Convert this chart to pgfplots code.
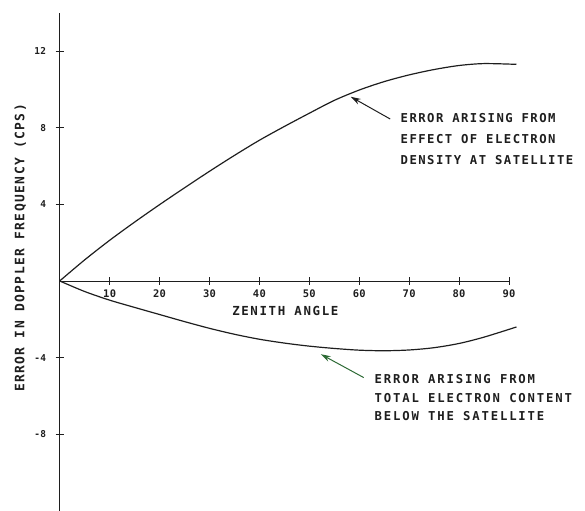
\documentclass[border=0pt]{standalone}
\usepackage{pgfplots}
\pgfplotsset{compat=1.18}
\usepackage{fontspec}
\usetikzlibrary{arrows.meta}
\newfontfamily\annAfont[LetterSpace=12]{DejaVu Sans Mono}
\newfontfamily\annBfont[LetterSpace=15]{DejaVu Sans Mono}
\newfontfamily\ylabfont[LetterSpace=11]{DejaVu Sans Mono}
\newfontfamily\xlabfont[LetterSpace=13]{DejaVu Sans Mono}
\newfontfamily\ticfont[LetterSpace=3]{DejaVu Sans Mono}
\definecolor{ink}{HTML}{1E1E1E}
\definecolor{arrgreen}{HTML}{2D6A35}
\begin{document}
\begin{tikzpicture}
\begin{axis}[
  scale only axis, width=449.3bp, height=498.4bp,
  xmin=0, xmax=90, ymin=-12, ymax=14,
  axis lines=middle,
  axis line style={-, line width=0.9pt, color=ink},
  every inner x axis line/.append style={-},
  every inner y axis line/.append style={-},
  xtick={10,20,...,90}, xticklabels={10,20,30,40,50,60,70,80,90},
  ytick={-8,-4,4,8,12}, yticklabels={-8,-4,4,8,12},
  tick align=center, major tick length=8bp,
  tick style={line width=0.8pt, color=ink},
  xticklabel style={font=\ticfont\bfseries\fontsize{10.5}{12}\selectfont, yshift=-1bp, text=ink},
  yticklabel style={font=\ticfont\bfseries\fontsize{9.5}{11}\selectfont, xshift=-6bp, text=ink},
  clip=false,
]
\addplot[no marks, smooth, tension=0.5, line width=1.2pt, color=ink] coordinates {
(0,0) (5,1.10) (10,2.12) (15,3.07) (20,3.98) (25,4.86) (30,5.72) (35,6.55)
(40,7.34) (45,8.06) (50,8.75) (55,9.42) (60,9.96) (65,10.40) (70,10.75)
(75,11.03) (80,11.24) (85,11.34) (91.5,11.30)};
\addplot[no marks, smooth, tension=0.5, line width=1.2pt, color=ink] coordinates {
(0,0) (5,-0.55) (10,-1.0) (15,-1.38) (20,-1.75) (25,-2.12) (30,-2.47) (35,-2.78)
(40,-3.04) (45,-3.24) (50,-3.40) (55,-3.52) (60,-3.61) (65,-3.64) (70,-3.60)
(75,-3.48) (80,-3.26) (85,-2.93) (91.5,-2.40)};
\node[font=\xlabfont\bfseries\fontsize{12.5}{14}\selectfont, text=ink] at (axis cs:45.2,-1.56) {ZENITH ANGLE};
\node[font=\ylabfont\bfseries\fontsize{13}{15}\selectfont, text=ink, rotate=90] at (axis cs:-7.9,1.72) {ERROR IN DOPPLER FREQUENCY (CPS)};
\node[anchor=west, font=\annAfont\bfseries\fontsize{12.3}{14}\selectfont, text=ink] at (axis cs:67.6,8.49) {ERROR ARISING FROM};
\node[anchor=west, font=\annAfont\bfseries\fontsize{12.3}{14}\selectfont, text=ink] at (axis cs:67.6,7.40) {EFFECT OF ELECTRON};
\node[anchor=west, font=\annAfont\bfseries\fontsize{12.3}{14}\selectfont, text=ink] at (axis cs:67.6,6.31) {DENSITY AT SATELLITE};
\node[anchor=west, font=\annBfont\bfseries\fontsize{12.3}{14}\selectfont, text=ink] at (axis cs:62.4,-5.11) {ERROR ARISING FROM};
\node[anchor=west, font=\annBfont\bfseries\fontsize{12.3}{14}\selectfont, text=ink] at (axis cs:62.4,-6.10) {TOTAL ELECTRON CONTENT};
\node[anchor=west, font=\annBfont\bfseries\fontsize{12.3}{14}\selectfont, text=ink] at (axis cs:62.4,-7.07) {BELOW THE SATELLITE};
\draw[-{Stealth[length=10bp,width=6bp]}, line width=1pt, color=ink] (axis cs:66.2,8.45) -- (axis cs:58.3,9.61);
\draw[-{Stealth[length=10bp,width=6bp]}, line width=1pt, color=arrgreen] (axis cs:60.9,-5.04) -- (axis cs:52.3,-3.82);
\end{axis}
\pgfresetboundingbox
\path (-59.7bp,0bp) rectangle (525.3bp,511bp);
\end{tikzpicture}
\end{document}
